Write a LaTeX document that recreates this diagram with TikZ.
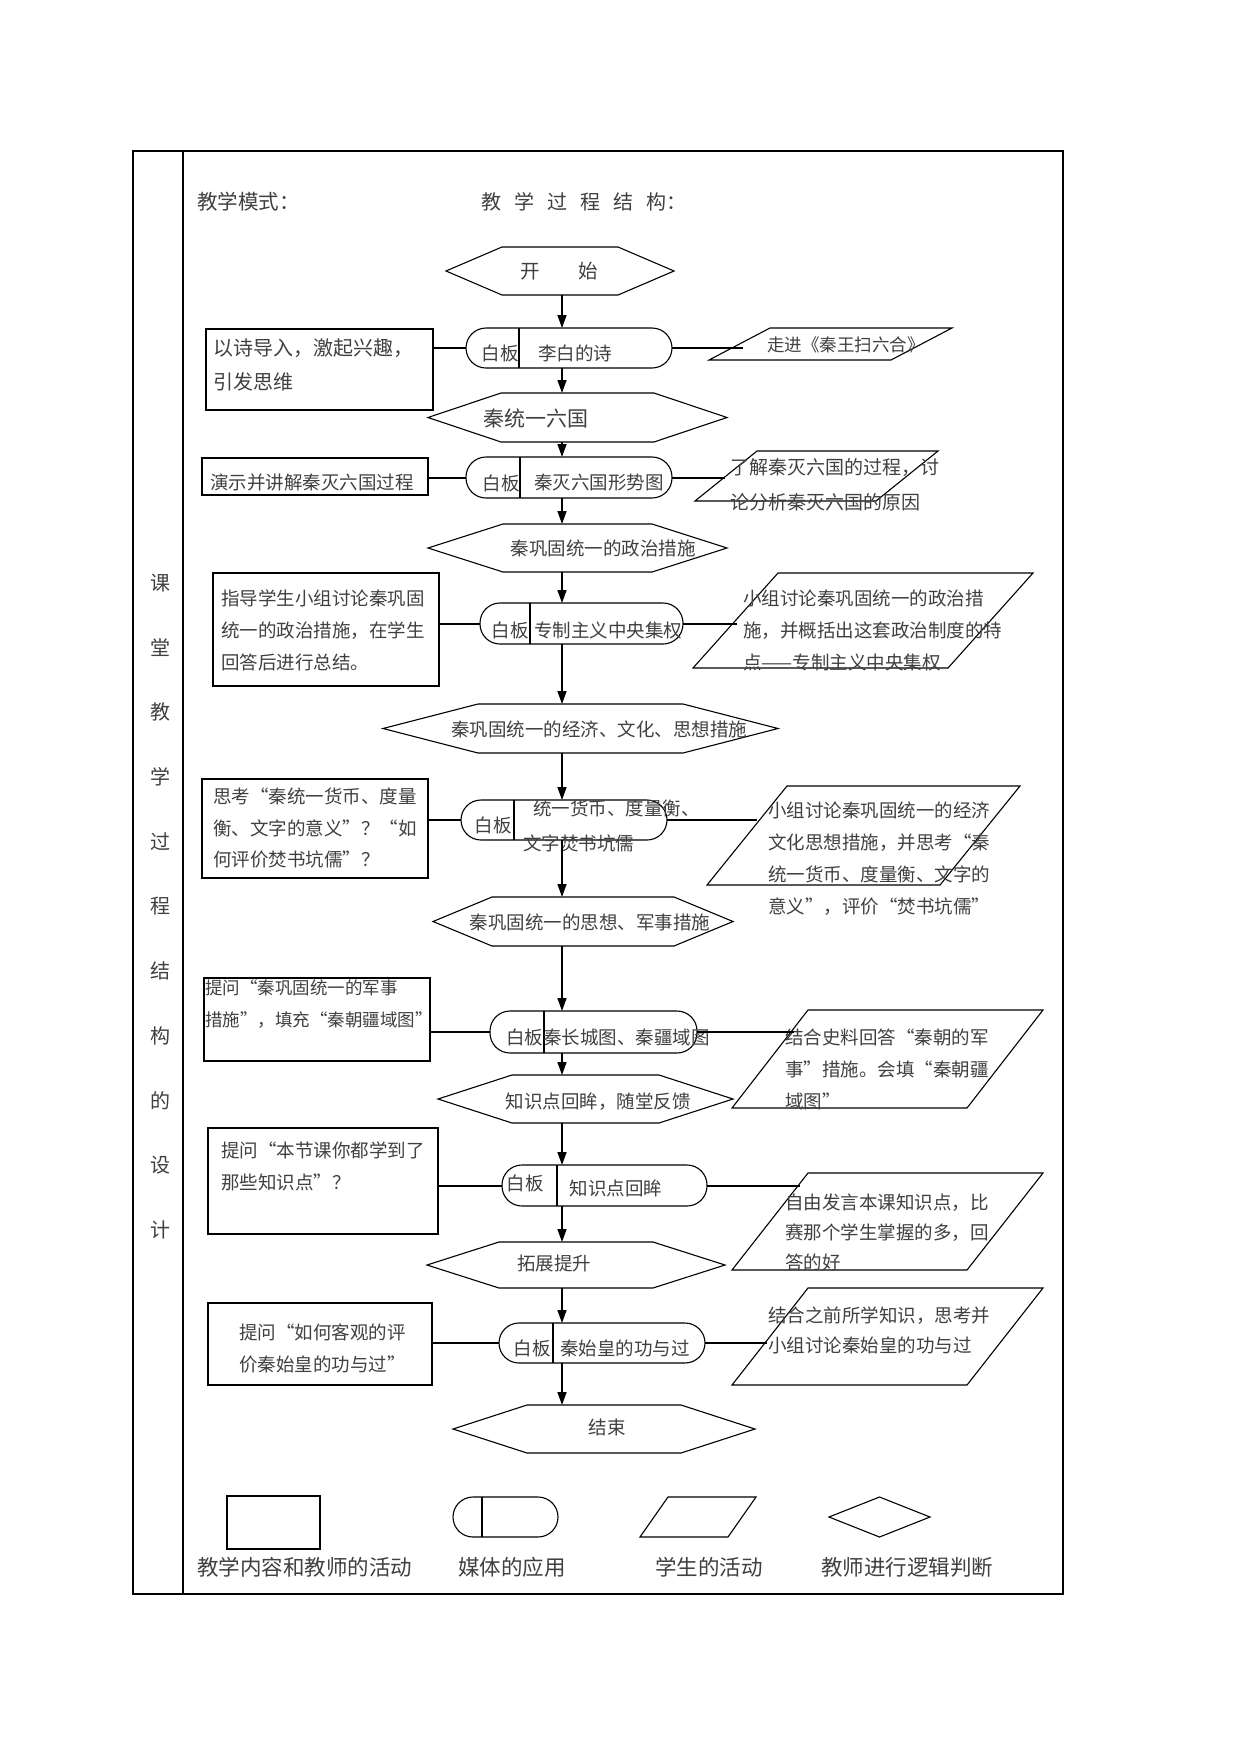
\documentclass[tikz,border=0pt]{standalone}
\usepackage{fontspec}
\setmainfont{Noto Sans CJK SC}
\usepackage{tikz}
\usetikzlibrary{arrows.meta,positioning}

\tikzset{
  frame/.style={rectangle, inner sep=0, outer sep=0},
  box/.style={draw, line width=1.2pt, inner sep=0, outer sep=0},
  media/.style={draw, line width=1.1pt, rounded corners=20pt, inner sep=0, outer sep=0},
  shapeline/.style={line width=1.1pt},
  link/.style={line width=2pt},
  flow/.style={line width=1.6pt, -{Triangle[length=13pt,width=9pt]}},
  txt/.style={font=\fontsize{18.5}{32}\selectfont, text=black!75, inner sep=0, anchor=west, align=left},
  mid/.style={txt, anchor=center},
}

% 六边形、平行四边形、媒体分隔线
\newcommand{\hexbox}[2]{\draw[shapeline] ([xshift=#2]#1.north west) -- ([xshift=-#2]#1.north east) -- (#1.east)
  -- ([xshift=-#2]#1.south east) -- ([xshift=#2]#1.south west) -- (#1.west) -- cycle;}
\newcommand{\slantbox}[2]{\draw[shapeline] ([xshift=#2]#1.north west) -- (#1.north east)
  -- ([xshift=-#2]#1.south east) -- (#1.south west) -- cycle;}
\newcommand{\mediadiv}[2]{\draw[shapeline] ([xshift=#2]#1.north west) -- ([xshift=#2]#1.south west);}

\begin{document}
\begin{tikzpicture}[x=1pt, y=-1pt]
\fill[white] (0,0) rectangle (1241,1754);
\useasboundingbox (0,0) rectangle (1241,1754);

% 表格
\draw[line width=1.2pt] (133,151) rectangle (1063,1594);
\draw[line width=1.2pt] (183,151) -- (183,1594);
\node[txt, anchor=center, align=center, font=\fontsize{20}{64.7}\selectfont] (side) at (160,906.5)
  {课\\堂\\教\\学\\过\\程\\结\\构\\的\\设\\计};
\node[txt, font=\fontsize{20.5}{24}\selectfont] (mode) at (197,202) {教学模式：};
\node[txt, font=\fontsize{20}{24}\selectfont] (struct) at (481,202)
  {教\hspace{13pt}学\hspace{13pt}过\hspace{13pt}程\hspace{13pt}结\hspace{13pt}构：};

\coordinate (spine) at (562,0);

% 中间一列
\node[frame, minimum width=228pt, minimum height=48pt] (hex1) at (560,271) {}; \hexbox{hex1}{56}
\node[mid, font=\fontsize{19.5}{24}\selectfont] (hex1t) at (559,271) {开　　始};

\node[media, minimum width=206pt, minimum height=40pt] (med1) at (569,348) {}; \mediadiv{med1}{53}
\node[mid] (med1a) at (500,353) {白板};
\node[mid] (med1b) at (575,353) {李白的诗};

\node[frame, minimum width=299pt, minimum height=49pt] (hex2) at (577.5,417.5) {}; \hexbox{hex2}{73}
\node[txt, font=\fontsize{21}{24}\selectfont] (hex2t) at (483,418) {秦统一六国};

\node[media, minimum width=206pt, minimum height=41pt] (med2) at (569,477.5) {}; \mediadiv{med2}{54}
\node[mid] (med2a) at (501,483) {白板};
\node[mid] (med2b) at (599,483) {秦灭六国形势图};

\node[frame, minimum width=299pt, minimum height=48pt] (hex3) at (577.5,548) {}; \hexbox{hex3}{75}
\node[mid] (hex3t) at (603,548) {秦巩固统一的政治措施};

\node[media, minimum width=203pt, minimum height=41pt] (med3) at (581.5,623.5) {}; \mediadiv{med3}{50}
\node[mid] (med3a) at (510,630) {白板};
\node[mid] (med3b) at (608,630) {专制主义中央集权};

\node[frame, minimum width=395pt, minimum height=49pt] (hex4) at (580.5,728.5) {}; \hexbox{hex4}{95}
\node[mid] (hex4t) at (599,729) {秦巩固统一的经济、文化、思想措施};

\node[media, minimum width=206pt, minimum height=40pt] (med4) at (564,820) {}; \mediadiv{med4}{53}
\node[mid] (med4a) at (493,825) {白板};
\node[txt] (med4b) at (533,808) {统一货币、度量衡、};
\node[txt] (med4c) at (523,843) {文字焚书坑儒};

\node[frame, minimum width=300pt, minimum height=49pt] (hex5) at (583,921.5) {}; \hexbox{hex5}{59}
\node[mid] (hex5t) at (590,922) {秦巩固统一的思想、军事措施};

\node[media, minimum width=207pt, minimum height=42pt] (med5) at (593.5,1032) {}; \mediadiv{med5}{54}
\node[txt] (med5t) at (506,1037) {白板秦长城图、秦疆域图};

\node[frame, minimum width=295pt, minimum height=48pt] (hex6) at (585.5,1099) {}; \hexbox{hex6}{74}
\node[mid] (hex6t) at (598,1102) {知识点回眸，随堂反馈};

\node[media, minimum width=205pt, minimum height=41pt] (med6) at (604.5,1185.5) {}; \mediadiv{med6}{55}
\node[mid] (med6a) at (525,1183) {白板};
\node[mid] (med6b) at (616,1188) {知识点回眸};

\node[frame, minimum width=298pt, minimum height=46pt] (hex7) at (576,1265) {}; \hexbox{hex7}{72}
\node[mid] (hex7t) at (554,1263) {拓展提升};

\node[media, minimum width=206pt, minimum height=40pt] (med7) at (602,1343) {}; \mediadiv{med7}{54}
\node[mid] (med7a) at (532,1348) {白板};
\node[mid] (med7b) at (625,1348) {秦始皇的功与过};

\node[frame, minimum width=302pt, minimum height=48pt] (hex8) at (604,1429) {}; \hexbox{hex8}{74}
\node[mid] (hex8t) at (607,1427) {结束};

% 教师活动
\node[box, minimum width=227pt, minimum height=81pt] (box1) at (319.5,369.5) {};
\node[txt, font=\fontsize{20}{34}\selectfont] (box1t) at (213,365) {以诗导入，激起兴趣，\\引发思维};
\node[box, minimum width=226pt, minimum height=37pt] (box2) at (315,476.5) {};
\node[txt] (box2t) at (210,482) {演示并讲解秦灭六国过程};
\node[box, minimum width=226pt, minimum height=113pt] (box3) at (326,629.5) {};
\node[txt] (box3t) at (221,630) {指导学生小组讨论秦巩固\\统一的政治措施，在学生\\回答后进行总结。};
\node[box, minimum width=226pt, minimum height=99pt] (box4) at (315,828.5) {};
\node[txt, font=\fontsize{18.5}{31.5}\selectfont] (box4t) at (213,828) {思考“秦统一货币、度量\\衡、文字的意义”？“如\\何评价焚书坑儒”？};
\node[box, minimum width=226pt, minimum height=83pt] (box5) at (317,1019.5) {};
\node[txt, font=\fontsize{17.5}{32}\selectfont] (box5t) at (205,1004) {提问“秦巩固统一的军事\\措施”，填充“秦朝疆域图”};
\node[box, minimum width=230pt, minimum height=106pt] (box6) at (323,1181) {};
\node[txt] (box6t) at (221,1166) {提问“本节课你都学到了\\那些知识点”？};
\node[box, minimum width=224pt, minimum height=82pt] (box7) at (320,1344) {};
\node[txt] (box7t) at (239,1348) {提问“如何客观的评\\价秦始皇的功与过”};

% 学生活动
\node[frame, minimum width=243pt, minimum height=32pt] (para1) at (830.5,344) {}; \slantbox{para1}{61}
\node[txt, font=\fontsize{17.5}{24}\selectfont] (para1t) at (767,345) {走进《秦王扫六合》};
\node[frame, minimum width=243pt, minimum height=50pt] (para2) at (816.5,476) {}; \slantbox{para2}{62}
\node[txt, font=\fontsize{19}{35}\selectfont] (para2t) at (730,484.5) {了解秦灭六国的过程，讨\\论分析秦灭六国的原因};
\node[frame, minimum width=340pt, minimum height=95pt] (para3) at (863,620.5) {}; \slantbox{para3}{85}
\node[txt] (para3t) at (743,630.7) {小组讨论秦巩固统一的政治措\\施，并概括出这套政治制度的特\\点——专制主义中央集权};
\node[frame, minimum width=313pt, minimum height=99pt] (para4) at (863.5,835.5) {}; \slantbox{para4}{80}
\node[txt] (para4t) at (768,859) {小组讨论秦巩固统一的经济\\文化思想措施，并思考“秦\\统一货币、度量衡、文字的\\意义”，评价“焚书坑儒”};
\node[frame, minimum width=311pt, minimum height=98pt] (para5) at (887.5,1059) {}; \slantbox{para5}{76}
\node[txt] (para5t) at (785,1069) {结合史料回答“秦朝的军\\事”措施。会填“秦朝疆\\域图”};
\node[frame, minimum width=311pt, minimum height=97pt] (para6) at (887.5,1221.5) {}; \slantbox{para6}{76}
\node[txt, font=\fontsize{18.5}{30}\selectfont] (para6t) at (785,1232) {自由发言本课知识点，比\\赛那个学生掌握的多，回\\答的好};
\node[frame, minimum width=311pt, minimum height=97pt] (para7) at (887.5,1336.5) {}; \slantbox{para7}{76}
\node[txt, font=\fontsize{18.5}{30}\selectfont] (para7t) at (768,1330) {结合之前所学知识，思考并\\小组讨论秦始皇的功与过};

% 箭头
\draw[flow] (hex1.south -| spine) -- (med1.north -| spine);
\draw[flow] (med1.south -| spine) -- (hex2.north -| spine);
\draw[flow] (hex2.south -| spine) -- (med2.north -| spine);
\draw[flow] (med2.south -| spine) -- (hex3.north -| spine);
\draw[flow] (hex3.south -| spine) -- (med3.north -| spine);
\draw[flow] (med3.south -| spine) -- (hex4.north -| spine);
\draw[flow] (hex4.south -| spine) -- (med4.north -| spine);
\draw[flow] (med4.south -| spine) -- (hex5.north -| spine);
\draw[flow] (hex5.south -| spine) -- (med5.north -| spine);
\draw[flow] (med5.south -| spine) -- (hex6.north -| spine);
\draw[flow] (hex6.south -| spine) -- (med6.north -| spine);
\draw[flow] (med6.south -| spine) -- (hex7.north -| spine);
\draw[flow] (hex7.south -| spine) -- (med7.north -| spine);
\draw[flow] (med7.south -| spine) -- (hex8.north -| spine);

% 连线
\draw[link] (med1.west -| box1.east) -- (med1.west);
\draw[link] (med2.west -| box2.east) -- (med2.west);
\draw[link] (med3.west -| box3.east) -- (med3.west);
\draw[link] (med4.west -| box4.east) -- (med4.west);
\draw[link] (med5.west -| box5.east) -- (med5.west);
\draw[link] (med6.west -| box6.east) -- (med6.west);
\draw[link] (med7.west -| box7.east) -- (med7.west);
\draw[link] (med1.east) -- ([xshift=34pt]med1.east -| para1.west);
\draw[link] (med2.east) -- ([xshift=30pt]med2.east -| para2.west);
\draw[link] (med3.east) -- ([xshift=44pt]med3.east -| para3.west);
\draw[link] (med4.east) -- ([xshift=50pt]med4.east -| para4.west);
\draw[link] (med5.east) -- ([xshift=62pt]med5.east -| para5.west);
\draw[link] (med6.east) -- ([xshift=68pt]med6.east -| para6.west);
\draw[link] (med7.east) -- ([xshift=35pt]med7.east -| para7.west);

% 图例
\node[box, minimum width=93pt, minimum height=53pt] (lgbox) at (273.5,1522.5) {};
\node[media, minimum width=105pt, minimum height=40pt] (lgmed) at (505.5,1517) {}; \mediadiv{lgmed}{29}
\node[frame, minimum width=116pt, minimum height=40pt] (lgpara) at (698,1517) {}; \slantbox{lgpara}{28}
\node[frame, minimum width=101pt, minimum height=40pt] (lgdia) at (879.5,1517) {};
\draw[shapeline] (lgdia.north) -- (lgdia.east) -- (lgdia.south) -- (lgdia.west) -- cycle;
\node[txt, font=\fontsize{21.5}{24}\selectfont] (lgboxt) at (197,1567) {教学内容和教师的活动};
\node[txt, font=\fontsize{21.5}{24}\selectfont] (lgmedt) at (458,1567) {媒体的应用};
\node[txt, font=\fontsize{21.5}{24}\selectfont] (lgparat) at (655,1567) {学生的活动};
\node[txt, font=\fontsize{21.5}{24}\selectfont] (lgdiat) at (821,1567) {教师进行逻辑判断};
\end{tikzpicture}
\end{document}
